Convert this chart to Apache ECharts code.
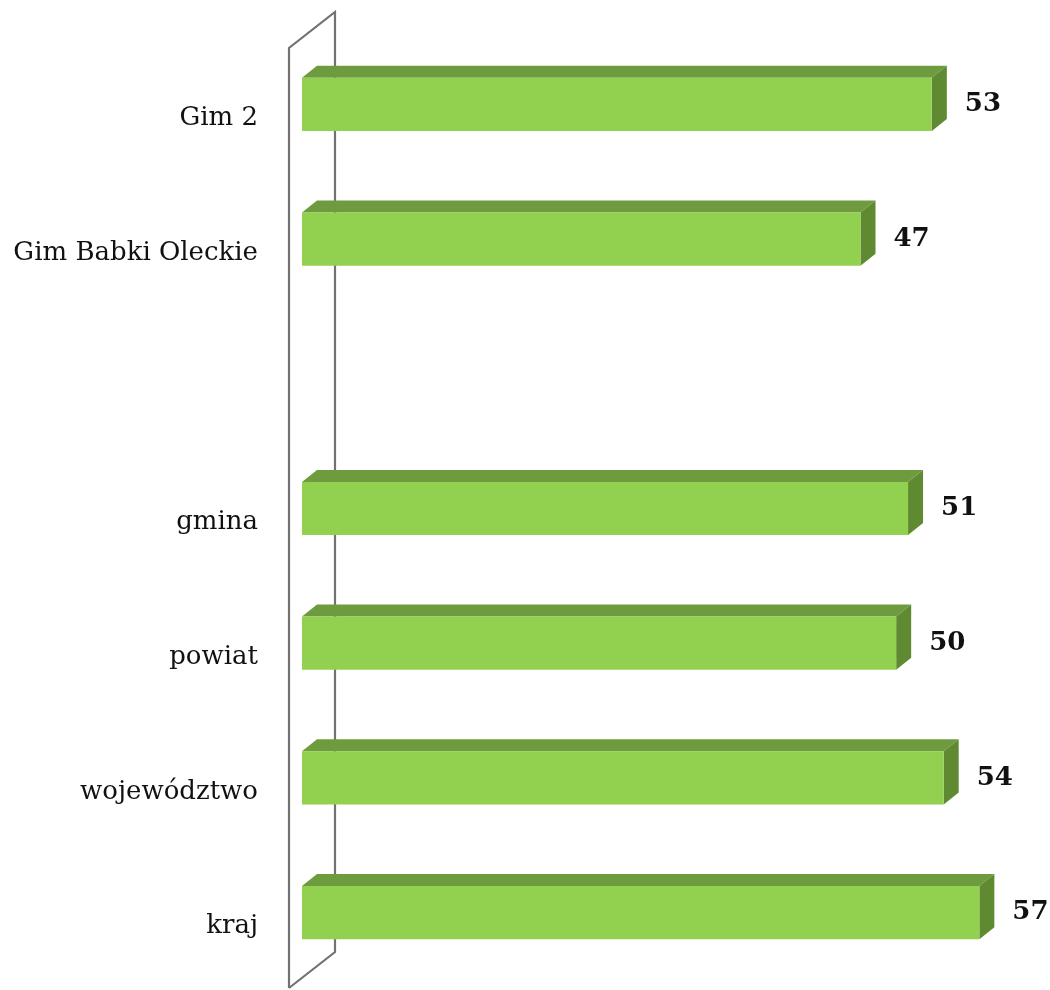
<!DOCTYPE html>
<html><head><meta charset="utf-8">
<script src="https://cdn.jsdelivr.net/npm/echarts@6/dist/echarts.min.js"></script>
<style>html,body{margin:0;padding:0;background:#fff}#c{width:1050px;height:990px}</style>
</head><body><div id="c"></div>
<script>
const categories = ['Gim 2', 'Gim Babki Oleckie', '', 'gmina', 'powiat', 'województwo', 'kraj'];
const values = [53, 47, null, 51, 50, 54, 57];
const axisMax = 60;

const FRONT = '#92D050', TOP = '#6E9B3D', SIDE = '#5F8A31';
const DX = 15, DY = -12;

const chart = echarts.init(document.getElementById('c'));
const barData = categories.map((c, i) => [i, values[i]]).filter(d => d[1] != null);

chart.setOption({
  animation: false,
  grid: { left: 302, right: 35, top: 37, bottom: 10 },
  xAxis: { type: 'value', min: 0, max: axisMax, show: false },
  yAxis: {
    type: 'category', data: categories, inverse: true,
    axisLine: { show: false }, axisTick: { show: false }, splitLine: { show: false },
    axisLabel: { margin: 44, fontFamily: 'DejaVu Serif', fontSize: 26, lineHeight: 28, color: '#111', verticalAlign: 'top' }
  },
  series: [
    {
      type: 'custom', silent: true, data: [[0]],
      renderItem: (params, api) => {
        const cs = params.coordSys;
        const x0 = api.coord([0, 0])[0];
        const fx = x0 - 13, bx = x0 + 33;
        const fb = cs.y + cs.height + 8, ft = cs.y + 11;
        const dy = -36;
        return {
          type: 'polyline',
          shape: { points: [[fx, fb], [fx, ft], [bx, ft + dy], [bx, fb + dy], [fx, fb]] },
          style: { stroke: '#727272', lineWidth: 2.2, fill: null }
        };
      }
    },
    {
      type: 'custom', data: barData, encode: { x: 1, y: 0 },
      renderItem: (params, api) => {
        const ci = api.value(0), v = api.value(1);
        const p0 = api.coord([0, ci]), p1 = api.coord([v, ci]);
        const h = api.size([0, 1])[1] * 0.395;
        const y1 = p0[1] - h / 2, y2 = p0[1] + h / 2;
        const xa = p0[0], xb = p1[0];
        return {
          type: 'group', children: [
            { type: 'polygon', shape: { points: [[xa, y1], [xa + DX, y1 + DY], [xb + DX, y1 + DY], [xb, y1]] }, style: { fill: TOP } },
            { type: 'polygon', shape: { points: [[xb, y1], [xb + DX, y1 + DY], [xb + DX, y2 + DY], [xb, y2]] }, style: { fill: SIDE } },
            { type: 'rect', shape: { x: xa, y: y1, width: xb - xa, height: h }, style: { fill: FRONT } },
            { type: 'text', x: xb + 33, y: p0[1], style: { text: String(v), fontFamily: 'DejaVu Serif', fontWeight: 'bold', fontSize: 26, fill: '#111', verticalAlign: 'middle', align: 'left' } }
          ]
        };
      }
    }
  ]
});
</script></body></html>
